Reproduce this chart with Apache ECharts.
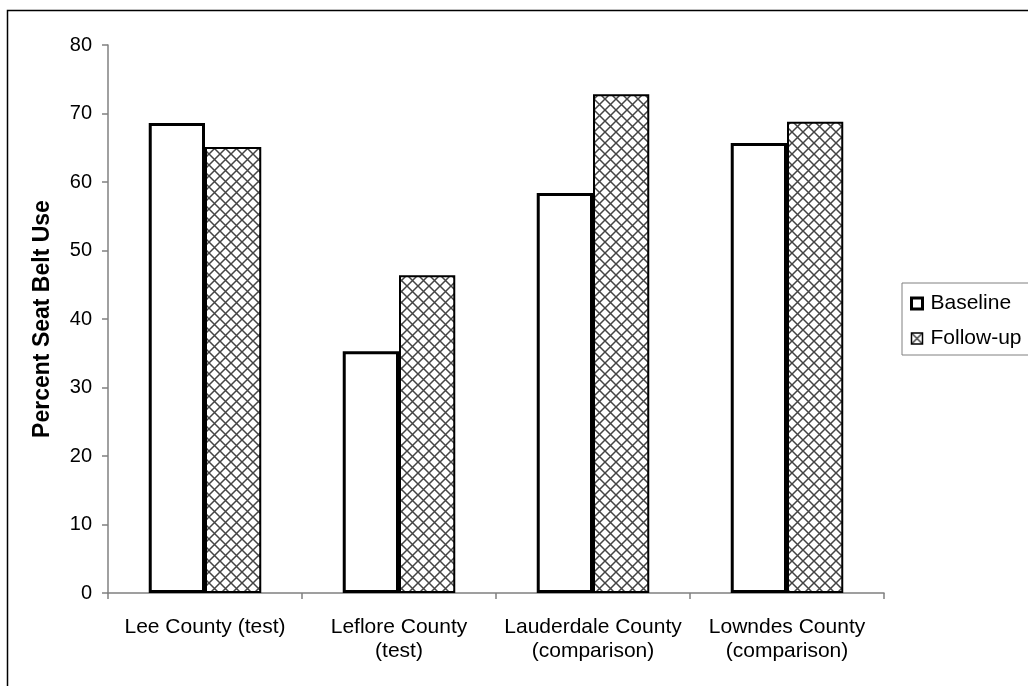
<!DOCTYPE html>
<html>
<head>
<meta charset="utf-8">
<script src="https://cdn.jsdelivr.net/npm/echarts@6/dist/echarts.min.js"></script>
<style>
  html, body { margin: 0; padding: 0; background: #fff; }
  #chart { width: 1028px; height: 686px; }
</style>
</head>
<body>
<div id="chart"></div>
<script>
// Seat belt use by county, baseline vs. follow-up survey
const counties = [
  'Lee County (test)',
  'Leflore County\n(test)',
  'Lauderdale County\n(comparison)',
  'Lowndes County\n(comparison)'
];
const baseline = [68.6, 35.3, 58.4, 65.7];
const followUp = [65.1, 46.4, 72.8, 68.8];
const yTicks = [0, 10, 20, 30, 40, 50, 60, 70, 80];

// Diagonal cross-hatch fill for the follow-up bars
function crossHatch() {
  const s = 11;
  const c = document.createElement('canvas');
  c.width = s; c.height = s;
  const g = c.getContext('2d');
  g.fillStyle = '#fff';
  g.fillRect(0, 0, s, s);
  g.strokeStyle = '#444';
  g.lineWidth = 1.5;
  g.beginPath();
  g.moveTo(0, 0); g.lineTo(s, s);
  g.moveTo(s, 0); g.lineTo(0, s);
  g.stroke();
  return c;
}
const hatch = { image: crossHatch(), repeat: 'repeat' };

const font = 'Liberation Sans, Arial, sans-serif';
const chart = echarts.init(document.getElementById('chart'));
chart.setOption({
  animation: false,
  backgroundColor: '#fff',
  textStyle: { fontFamily: font },
  graphic: [{
    type: 'rect',
    shape: { x: 7.5, y: 10.5, width: 1040, height: 700 },
    style: { fill: 'none', stroke: '#000', lineWidth: 1.5 },
    silent: true
  }],
  grid: { left: 108, top: 45, right: 144, bottom: 93 },
  legend: {
    orient: 'vertical',
    left: 902,
    top: 283,
    itemWidth: 11,
    itemHeight: 11,
    itemGap: 14,
    padding: [10, 10, 6, 8],
    borderColor: '#808080',
    borderWidth: 1,
    textStyle: { fontSize: 21, color: '#000', fontFamily: font, padding: [0, 0, 0, 3] },
    data: [
      { name: 'Baseline', icon: 'rect', itemStyle: { color: '#fff', borderColor: '#000', borderWidth: 3 } },
      { name: 'Follow-up', icon: 'rect', itemStyle: { borderColor: '#000', borderWidth: 1.5 } }
    ]
  },
  xAxis: {
    type: 'category',
    data: counties,
    axisLine: { lineStyle: { color: '#808080', width: 1.5 } },
    axisTick: { show: true, interval: 0, length: 6, lineStyle: { color: '#808080', width: 1.5 } },
    axisLabel: { interval: 0, fontSize: 21, color: '#000', margin: 22, lineHeight: 24, fontFamily: font }
  },
  yAxis: {
    type: 'value',
    min: yTicks[0],
    max: yTicks[yTicks.length - 1],
    interval: 10,
    name: 'Percent Seat Belt Use',
    nameLocation: 'middle',
    nameGap: 54,
    nameTextStyle: { fontSize: 23, fontWeight: 'bold', color: '#000', fontFamily: font },
    axisLine: { show: true, lineStyle: { color: '#808080', width: 1.5 } },
    axisTick: { show: true, length: 6, lineStyle: { color: '#808080', width: 1.5 } },
    axisLabel: { fontSize: 20, color: '#000', margin: 16, fontFamily: font },
    splitLine: { show: false }
  },
  series: [
    {
      name: 'Baseline',
      type: 'bar',
      data: baseline,
      barGap: '0%',
      barCategoryGap: '42%',
      itemStyle: { color: '#fff', borderColor: '#000', borderWidth: 3 }
    },
    {
      name: 'Follow-up',
      type: 'bar',
      data: followUp,
      barGap: '0%',
      barCategoryGap: '42%',
      itemStyle: { color: hatch, borderColor: '#000', borderWidth: 2 }
    }
  ]
});
</script>
</body>
</html>
